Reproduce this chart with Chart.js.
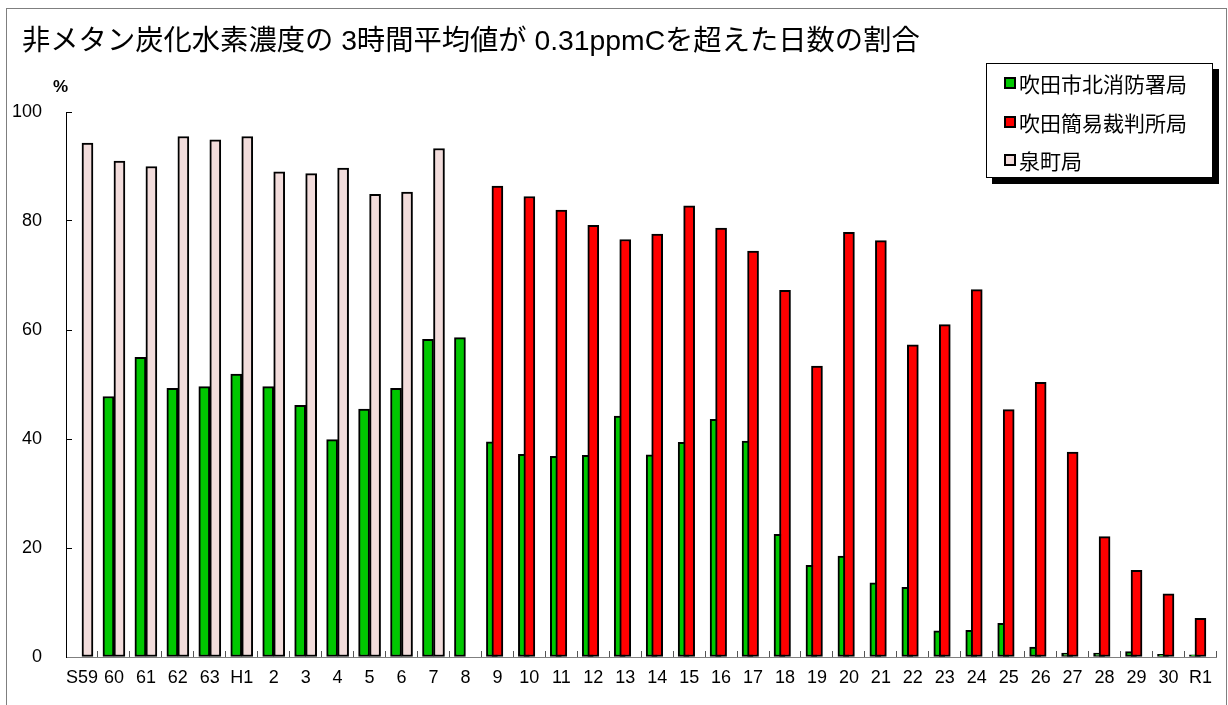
<!DOCTYPE html>
<html lang="ja">
<head>
<meta charset="utf-8">
<title>非メタン炭化水素濃度の3時間平均値が0.31ppmCを超えた日数の割合</title>
<script src="https://cdn.jsdelivr.net/npm/chart.js@4/dist/chart.umd.min.js"></script>
<style>
  html, body { margin: 0; padding: 0; background: #fff; }
  #wrap { position: relative; width: 1228px; height: 705px; overflow: hidden; }
  #frame {
    position: absolute; left: 6px; top: 8px; width: 1221px; height: 705px;
    border: 1px solid #7f7f7f; box-sizing: border-box; pointer-events: none;
  }
  #titulo {
    position: absolute; left: 22px; top: 26px; white-space: nowrap;
    font: 28.3px/1 "Liberation Sans", "Noto Sans CJK JP", sans-serif; color: #000;
  }
  #unit {
    position: absolute; left: 53px; top: 77px;
    font: bold 17px "Liberation Sans", Arial, sans-serif; color: #000;
  }
  #legend {
    position: absolute; left: 986px; top: 63px; width: 227px; height: 115px;
    border: 1px solid #000; background: #fff; box-shadow: 6px 6px 0 #000;
    box-sizing: border-box; padding-top: 0;
    font: 21px "Noto Sans CJK JP", sans-serif; color: #000;
  }
  .item { display: flex; align-items: center; height: 38.5px; padding-left: 17px; }
  .item span.sw { width: 8px; height: 8px; border: 2px solid #000; margin-right: 3px; }
</style>
</head>
<body>
<div id="wrap">
  <canvas id="grafico" width="1228" height="705"></canvas>
  <div id="frame"></div>
  <div id="titulo"></div>
  <div id="unit">%</div>
  <div id="legend"></div>
</div>
<script>
const titulo = '非メタン炭化水素濃度の 3時間平均値が 0.31ppmCを超えた日数の割合';

const anos = ['S59', '60', '61', '62', '63', 'H1', '2', '3', '4', '5', '6', '7', '8',
  '9', '10', '11', '12', '13', '14', '15', '16', '17', '18', '19', '20',
  '21', '22', '23', '24', '25', '26', '27', '28', '29', '30', 'R1'];

const nomesSeries = ['吹田市北消防署局', '吹田簡易裁判所局', '泉町局'];

// 吹田市北消防署局
const kitaShobo = [null, 47.8, 55.0, 49.3, 49.6, 51.9, 49.6, 46.2, 39.9, 45.5, 49.3, 58.3, 58.6,
  39.5, 37.2, 36.8, 37.0, 44.2, 37.1, 39.4, 43.6, 39.6, 22.5, 16.8, 18.5,
  13.6, 12.8, 4.8, 4.9, 6.2, 1.8, 0.7, 0.7, 1.0, 0.5, 0.4];

// 吹田簡易裁判所局
const saibansho = [null, null, null, null, null, null, null, null, null, null, null, null, null,
  86.4, 84.5, 82.0, 79.2, 76.6, 77.6, 82.8, 78.7, 74.5, 67.3, 53.4, 77.9,
  76.4, 57.3, 61.0, 67.4, 45.4, 50.4, 37.6, 22.1, 15.9, 11.6, 7.1];

// 泉町局
const izumicho = [94.3, 91.0, 90.0, 95.5, 94.9, 95.5, 89.0, 88.7, 89.7, 84.9, 85.3, 93.3, null,
  null, null, null, null, null, null, null, null, null, null, null, null,
  null, null, null, null, null, null, null, null, null, null, null];

const yTicks = [0, 20, 40, 60, 80, 100];

const cores = ['#00c800', '#ff0000', '#f2dcdb'];

const fonteEixo = '"Liberation Sans", Arial, sans-serif';

document.getElementById('titulo').textContent = titulo;

// legenda em HTML (caixa com sombra dentro da área do gráfico)
const legenda = document.getElementById('legend');
nomesSeries.forEach((nome, i) => {
  const div = document.createElement('div');
  div.className = 'item';
  div.innerHTML = `<span class="sw" style="background:${cores[i]}"></span>${nome}`;
  legenda.appendChild(div);
});

const ctx = document.getElementById('grafico').getContext('2d');

new Chart(ctx, {
  type: 'bar',
  data: {
    labels: anos,
    datasets: [
      {
        label: nomesSeries[0],
        data: kitaShobo,
        backgroundColor: cores[0],
        borderColor: '#000',
        borderWidth: 2,
        borderSkipped: false,
        barThickness: 11,
        stack: 'g',
        order: 1
      },
      {
        label: nomesSeries[1],
        data: saibansho,
        backgroundColor: cores[1],
        borderColor: '#000',
        borderWidth: 2,
        borderSkipped: false,
        barThickness: 11,
        grouped: false,
        order: 0
      },
      {
        label: nomesSeries[2],
        data: izumicho,
        backgroundColor: cores[2],
        borderColor: '#000',
        borderWidth: 2,
        borderSkipped: false,
        barThickness: 11,
        stack: 'p',
        order: 2
      }
    ]
  },
  options: {
    responsive: false,
    animation: false,
    devicePixelRatio: 1,
    layout: {
      padding: { left: 8, right: 4, top: 112, bottom: 0 }
    },
    scales: {
      x: {
        stacked: false,
        offset: true,
        grid: {
          offset: true,
          drawOnChartArea: false,
          tickLength: -6,
          color: '#555'
        },
        border: { color: '#7f7f7f', width: 1 },
        ticks: {
          color: '#000',
          font: { family: fonteEixo, size: 18 },
          padding: 16,
          maxRotation: 0,
          autoSkip: false
        },
        afterFit: (scale) => { scale.height = 48; }
      },
      y: {
        min: 0,
        max: 100,
        afterBuildTicks: (scale) => { scale.ticks = yTicks.map(v => ({ value: v })); },
        grid: {
          drawOnChartArea: false,
          tickLength: -6,
          color: '#000'
        },
        border: { color: '#000', width: 1 },
        ticks: {
          color: '#000',
          font: { family: fonteEixo, size: 18 },
          padding: 30
        },
        afterFit: (scale) => { scale.width = 58; }
      }
    },
    plugins: {
      legend: { display: false },
      tooltip: { enabled: false },
      title: { display: false }
    }
  }
});
</script>
</body>
</html>
